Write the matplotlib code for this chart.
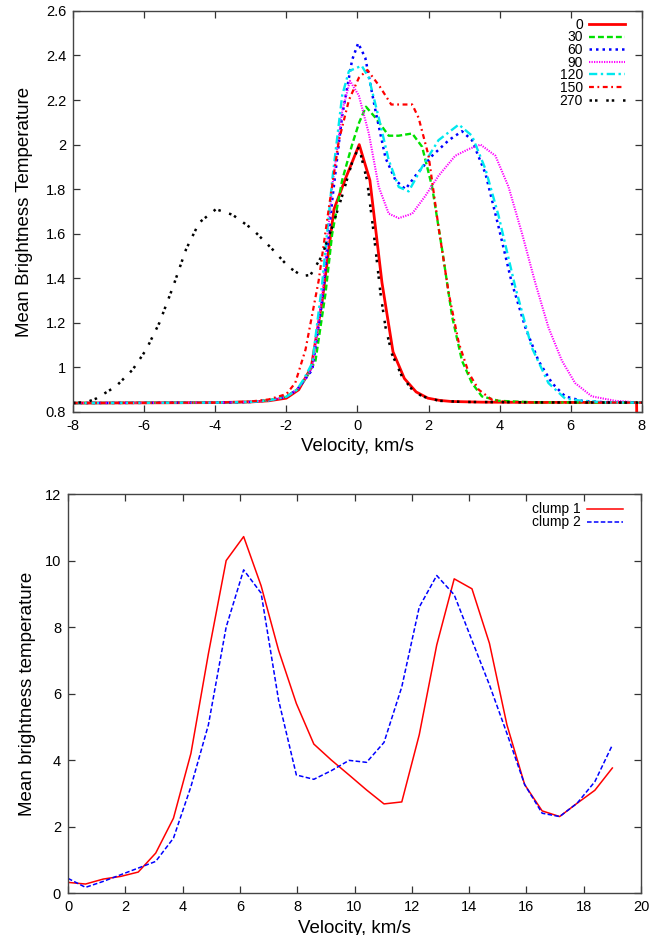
import matplotlib
matplotlib.use("Agg")
import matplotlib.pyplot as plt
from matplotlib.ticker import FuncFormatter

plt.rcParams["font.family"] = ["Liberation Sans", "DejaVu Sans"]
plt.rcParams["axes.unicode_minus"] = False

# ---- top panel: mean brightness temperature profiles by angle ----
x_0 = [-8, -4, -3, -2.5, -2.0, -1.65, -1.3, -0.99, -0.66, -0.33, 0.05, 0.35, 0.69,
       1.0, 1.32, 1.65, 1.98, 2.31, 2.64, 3.5, 5, 7.85, 7.88]
y_0 = [0.84, 0.842, 0.845, 0.85, 0.862, 0.9, 1.0, 1.3, 1.71, 1.85, 2.0, 1.84, 1.38,
       1.07, 0.95, 0.89, 0.862, 0.852, 0.847, 0.844, 0.843, 0.843, 0.5]

x_30 = [-8, -4, -3, -2.5, -2, -1.7, -1.45, -1.18, -0.9, -0.71, -0.43, -0.15, 0.05, 0.24,
        0.51, 0.88, 1.16, 1.54, 1.82, 2.1, 2.38, 2.66, 2.94, 3.22, 3.5, 3.97, 5, 8]
y_30 = [0.84, 0.842, 0.845, 0.852, 0.87, 0.9, 0.95, 1.03, 1.33, 1.60, 1.84, 2.0, 2.1, 2.17,
        2.12, 2.04, 2.04, 2.05, 1.99, 1.81, 1.53, 1.23, 1.03, 0.93, 0.87, 0.85, 0.843, 0.842]

x_60 = [-8, -4, -3, -2.5, -2, -1.7, -1.5, -1.27, -0.99, -0.71, -0.43, -0.15, 0.02, 0.22,
        0.51, 0.79, 1.07, 1.35, 1.63, 2.1, 2.57, 2.94, 3.22, 3.6, 3.97, 4.34, 4.72, 5.09,
        5.47, 5.84, 6.31, 7, 8]
y_60 = [0.84, 0.842, 0.845, 0.852, 0.868, 0.9, 0.94, 0.99, 1.30, 1.75, 2.13, 2.38, 2.455, 2.39,
        2.15, 1.94, 1.84, 1.80, 1.86, 1.95, 2.02, 2.06, 2.02, 1.87, 1.63, 1.38, 1.18, 1.03,
        0.93, 0.87, 0.85, 0.843, 0.842]

x_90 = [-8, -4, -3, -2.5, -2, -1.7, -1.5, -1.27, -0.99, -0.71, -0.43, -0.21, 0.04, 0.32,
        0.6, 0.88, 1.16, 1.54, 1.91, 2.28, 2.75, 3.13, 3.46, 3.88, 4.25, 4.63, 5.0, 5.37,
        5.75, 6.12, 6.59, 7.25, 7.7]
y_90 = [0.84, 0.842, 0.845, 0.852, 0.868, 0.9, 0.94, 1.0, 1.33, 1.81, 2.15, 2.286, 2.22, 2.05,
        1.81, 1.69, 1.67, 1.69, 1.77, 1.86, 1.95, 1.98, 2.0, 1.95, 1.81, 1.60, 1.38, 1.18,
        1.03, 0.93, 0.87, 0.85, 0.845]

x_120 = [-8, -4, -3, -2.5, -2, -1.7, -1.5, -1.27, -0.99, -0.71, -0.43, -0.24, 0.12, 0.32,
         0.6, 0.88, 1.16, 1.44, 1.82, 2.28, 2.85, 3.22, 3.6, 3.97, 4.44, 4.9, 5.37, 5.84,
         6.31, 7, 8]
y_120 = [0.84, 0.842, 0.845, 0.852, 0.868, 0.9, 0.95, 1.02, 1.38, 1.84, 2.22, 2.33, 2.354, 2.30,
         2.12, 1.93, 1.81, 1.79, 1.90, 2.02, 2.09, 2.04, 1.89, 1.68, 1.36, 1.09, 0.93, 0.86,
         0.85, 0.843, 0.842]

x_150 = [-8, -4, -3, -2.5, -2, -1.75, -1.46, -1.09, -0.8, -0.52, -0.24, 0.04, 0.28, 0.63,
         0.95, 1.16, 1.54, 1.72, 2.0, 2.28, 2.57, 2.85, 3.13, 3.41, 3.78, 4.16, 5, 8]
y_150 = [0.84, 0.842, 0.847, 0.856, 0.88, 0.93, 1.08, 1.39, 1.72, 2.02, 2.20, 2.30, 2.335, 2.26,
         2.18, 2.18, 2.18, 2.12, 1.95, 1.63, 1.33, 1.11, 0.975, 0.90, 0.855, 0.845, 0.843, 0.842]

x_270 = [-8, -7.6, -7.35, -6.79, -6.32, -5.94, -5.57, -5.19, -4.82, -4.45, -3.98, -3.51,
         -2.95, -2.39, -1.93, -1.55, -1.32, -1.0, -0.71, -0.43, -0.15, 0.04, 0.27, 0.46,
         0.65, 0.79, 0.97, 1.25, 1.54, 1.82, 2.3, 3, 5, 8]
y_270 = [0.84, 0.845, 0.86, 0.915, 0.99, 1.08, 1.2, 1.36, 1.53, 1.65, 1.71, 1.685,
         1.62, 1.53, 1.45, 1.41, 1.415, 1.50, 1.63, 1.77, 1.92, 1.99, 1.84, 1.60,
         1.33, 1.18, 1.06, 0.96, 0.90, 0.87, 0.85, 0.845, 0.843, 0.842]

# ---- bottom panel: two clumps ----
v_clump = [0.0, 0.61, 1.23, 1.84, 2.45, 3.06, 3.68, 4.29, 4.90, 5.52, 6.13, 6.74, 7.35,
           7.97, 8.58, 9.19, 9.81, 10.42, 11.03, 11.65, 12.26, 12.87, 13.48, 14.10, 14.71,
           15.32, 15.94, 16.55, 17.16, 17.77, 18.39, 19.00]
t_clump1 = [0.32, 0.27, 0.42, 0.50, 0.63, 1.20, 2.25, 4.2, 7.2, 10.0, 10.72, 9.24, 7.3,
            5.7, 4.48, 4.0, 3.55, 3.1, 2.68, 2.74, 4.76, 7.46, 9.45, 9.15, 7.51,
            5.06, 3.26, 2.47, 2.30, 2.7, 3.09, 3.76]
t_clump2 = [0.44, 0.17, 0.35, 0.55, 0.75, 0.95, 1.65, 3.2, 5.06, 8.0, 9.72, 9.02, 5.8,
            3.55, 3.42, 3.68, 3.99, 3.93, 4.53, 6.2, 8.6, 9.55, 8.97, 7.6, 6.26,
            4.8, 3.26, 2.4, 2.3, 2.7, 3.35, 4.45]

top_series = [
    ("0", x_0, y_0, "#ff0000", "-", 2.0),
    ("30", x_30, y_30, "#00e000", (0, (2.5, 1.3)), 1.7),
    ("60", x_60, y_60, "#0000ff", (0, (1, 1.6)), 1.8),
    ("90", x_90, y_90, "#ff00ff", (0, (0.6, 0.6)), 1.5),
    ("120", x_120, y_120, "#00e8ee", (0, (3.5, 1.5, 1, 1.5)), 1.7),
    ("150", x_150, y_150, "#ff0000", (0, (2.2, 1.6, 0.8, 1.6)), 1.6),
    ("270", x_270, y_270, "#000000", (0, (1, 1.2, 1, 3.5)), 1.8),
]

fig = plt.figure(figsize=(6.67, 9.35), dpi=100)
ax1 = fig.add_axes([0.1094, 0.5594, 0.853, 0.4289])
ax2 = fig.add_axes([0.102, 0.0449, 0.859, 0.4267])

for label, xs, ys, color, ls, lw in top_series:
    ax1.plot(xs, ys, color=color, linestyle=ls, linewidth=lw, label=label)
ax1.set_xlim(-8, 8)
ax1.set_ylim(0.8, 2.6)
ax1.set_xticks(range(-8, 9, 2))
ax1.set_yticks([0.8, 1.0, 1.2, 1.4, 1.6, 1.8, 2.0, 2.2, 2.4, 2.6])
ax1.yaxis.set_major_formatter(FuncFormatter(lambda v, p: f"{v:g}"))
ax1.set_xlabel("Velocity, km/s", fontsize=13.5, labelpad=4)
ax1.set_ylabel("Mean Brightness Temperature", fontsize=13.5, labelpad=9)
ax1.legend(loc="upper right", bbox_to_anchor=(0.983, 1.0), frameon=False, fontsize=10,
           markerfirst=False, handlelength=2.6, handletextpad=0.45, labelspacing=-0.1,
           borderpad=0.0)

ax2.plot(v_clump, t_clump1, color="#ff0000", linewidth=1.1, label="clump 1")
ax2.plot(v_clump, t_clump2, color="#0000ff", linewidth=1.1, linestyle=(0, (3, 1.5)),
         label="clump 2")
ax2.set_xlim(0, 20)
ax2.set_ylim(0, 12)
ax2.set_xticks(range(0, 21, 2))
ax2.set_yticks(range(0, 13, 2))
ax2.set_xlabel("Velocity, km/s", fontsize=13.5, labelpad=4)
ax2.set_ylabel("Mean brightness temperature", fontsize=13.5, labelpad=6)
ax2.legend(loc="upper right", bbox_to_anchor=(0.983, 1.0), frameon=False, fontsize=10,
           markerfirst=False, handlelength=2.6, handletextpad=0.45, labelspacing=-0.07,
           borderpad=0.1)

for ax in (ax1, ax2):
    ax.tick_params(direction="in", top=True, right=True, length=5, width=0.9,
                   labelsize=10.5, pad=5, color="#333333")
    for s in ax.spines.values():
        s.set_linewidth(1.0)
        s.set_color("#444444")

fig.savefig("out.png", dpi=100)
